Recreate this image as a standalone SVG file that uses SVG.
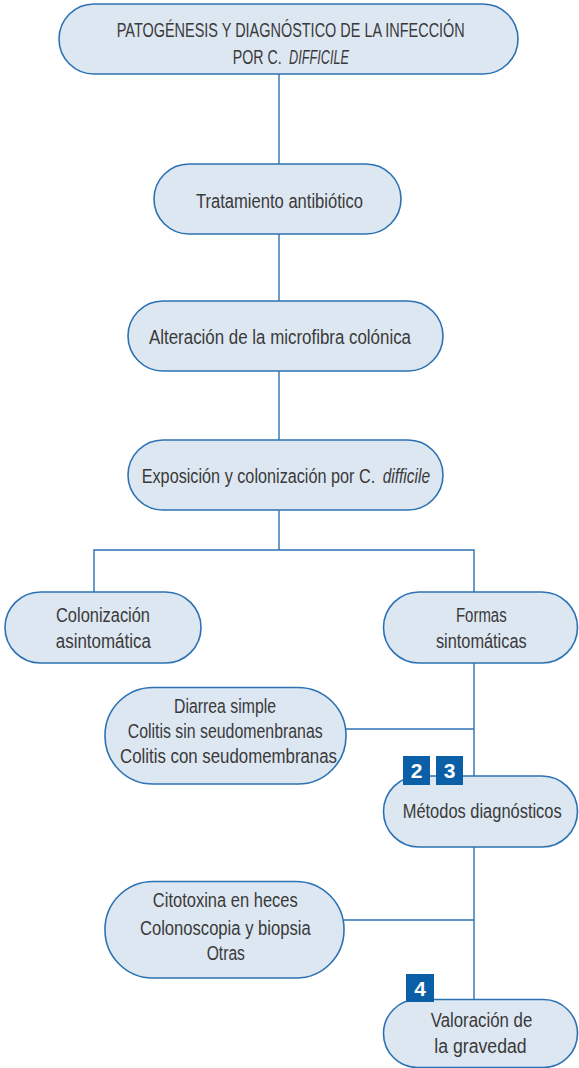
<svg xmlns="http://www.w3.org/2000/svg" width="579" height="1068" viewBox="0 0 579 1068">
<style>
.node{fill:#dde7f2;stroke:#2c72b3;stroke-width:1.6}
.conn{stroke:#2c72b3;stroke-width:1.4;fill:none}
.t{font-family:"Liberation Sans",Arial,sans-serif;font-size:20px;fill:#3a3a3a;text-anchor:middle}
.s{text-anchor:start}
.i{font-style:italic}
.badge{fill:#0a5fa6}
.bt{font-family:"Liberation Sans",Arial,sans-serif;font-size:21px;font-weight:bold;fill:#ffffff;text-anchor:middle}
</style>
<rect width="579" height="1068" fill="#ffffff"/>
<g id="connectors">
<line class="conn" x1="279" y1="74" x2="279" y2="164"/>
<line class="conn" x1="279" y1="234" x2="279" y2="301"/>
<line class="conn" x1="279" y1="371" x2="279" y2="440"/>
<line class="conn" x1="279" y1="510" x2="279" y2="550"/>
<polyline class="conn" points="94,592 94,550 474,550 474,592"/>
<line class="conn" x1="474" y1="663" x2="474" y2="776"/>
<line class="conn" x1="346" y1="729" x2="474" y2="729"/>
<line class="conn" x1="474" y1="847" x2="474" y2="1000"/>
<line class="conn" x1="344" y1="920" x2="474" y2="920"/>
</g>
<g id="n-title">
<rect class="node" x="59" y="4" width="459" height="70" rx="35"/>
<text class="t" x="290.8" y="36.5" textLength="348" lengthAdjust="spacingAndGlyphs">PATOGÉNESIS Y DIAGNÓSTICO DE LA INFECCIÓN</text>
<text class="t s" x="232.7" y="64" textLength="49" lengthAdjust="spacingAndGlyphs">POR C.</text>
<text class="t s i" x="289" y="64" textLength="60" lengthAdjust="spacingAndGlyphs">DIFFICILE</text>
</g>
<g id="n-tratamiento">
<rect class="node" x="154" y="164" width="247" height="70" rx="35"/>
<text class="t" x="279.5" y="207.7" textLength="167" lengthAdjust="spacingAndGlyphs">Tratamiento antibiótico</text>
</g>
<g id="n-alteracion">
<rect class="node" x="128" y="301" width="315" height="70" rx="35"/>
<text class="t" x="280" y="344" textLength="262" lengthAdjust="spacingAndGlyphs">Alteración de la microfibra colónica</text>
</g>
<g id="n-exposicion">
<rect class="node" x="128" y="440" width="315" height="70" rx="35"/>
<text class="t s" x="141.7" y="483" textLength="233.5" lengthAdjust="spacingAndGlyphs">Exposición y colonización por C.</text>
<text class="t s i" x="382.7" y="483" textLength="47.3" lengthAdjust="spacingAndGlyphs">difficile</text>
</g>
<g id="n-colonizacion">
<rect class="node" x="5" y="592" width="196" height="71" rx="35.5"/>
<text class="t" x="103" y="621.7" textLength="94" lengthAdjust="spacingAndGlyphs">Colonización</text>
<text class="t" x="103.3" y="648.3" textLength="95" lengthAdjust="spacingAndGlyphs">asintomática</text>
</g>
<g id="n-formas">
<rect class="node" x="383.5" y="592" width="194" height="71" rx="35.5"/>
<text class="t" x="481.3" y="621.7" textLength="50.7" lengthAdjust="spacingAndGlyphs">Formas</text>
<text class="t" x="481.3" y="648.3" textLength="90.7" lengthAdjust="spacingAndGlyphs">sintomáticas</text>
</g>
<g id="n-diarrea">
<rect class="node" x="105" y="687.5" width="241" height="96.5" rx="48"/>
<text class="t" x="225" y="713.3" textLength="102" lengthAdjust="spacingAndGlyphs">Diarrea simple</text>
<text class="t" x="225.2" y="738.3" textLength="195" lengthAdjust="spacingAndGlyphs">Colitis sin seudomenbranas</text>
<text class="t" x="228.5" y="763.3" textLength="217" lengthAdjust="spacingAndGlyphs">Colitis con seudomembranas</text>
</g>
<g id="n-metodos">
<rect class="node" x="383.5" y="776" width="194" height="71" rx="35.5"/>
<text class="t" x="482.2" y="817.5" textLength="159" lengthAdjust="spacingAndGlyphs">Métodos diagnósticos</text>
</g>
<g id="n-citotoxina">
<rect class="node" x="105" y="881.5" width="239" height="96.5" rx="48"/>
<text class="t" x="225.3" y="907.3" textLength="145" lengthAdjust="spacingAndGlyphs">Citotoxina en heces</text>
<text class="t" x="225.3" y="935" textLength="170.7" lengthAdjust="spacingAndGlyphs">Colonoscopia y biopsia</text>
<text class="t" x="225.8" y="960" textLength="38.3" lengthAdjust="spacingAndGlyphs">Otras</text>
</g>
<g id="n-valoracion">
<rect class="node" x="383.5" y="999.5" width="194" height="68" rx="34"/>
<text class="t" x="481.5" y="1027.3" textLength="101.6" lengthAdjust="spacingAndGlyphs">Valoración de</text>
<text class="t" x="480.5" y="1052.7" textLength="92.4" lengthAdjust="spacingAndGlyphs">la gravedad</text>
</g>
<g id="badge-2">
<rect class="badge" x="403" y="756" width="27" height="29"/>
<text class="bt" x="416.5" y="778">2</text>
</g>
<g id="badge-3">
<rect class="badge" x="436" y="756" width="27" height="29"/>
<text class="bt" x="449.5" y="778">3</text>
</g>
<g id="badge-4">
<rect class="badge" x="406" y="974" width="28" height="28"/>
<text class="bt" x="420" y="996">4</text>
</g>
</svg>
